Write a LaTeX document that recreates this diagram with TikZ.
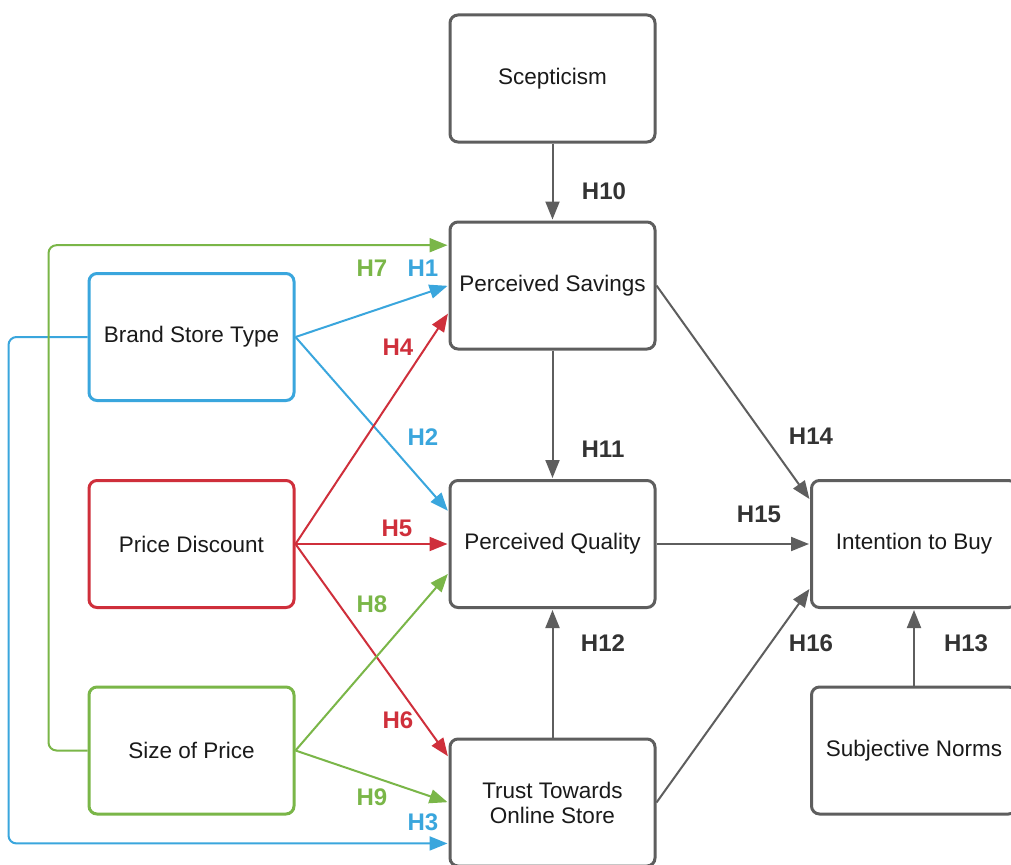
\documentclass[tikz,border=0pt]{standalone}
\usepackage{fontspec}
\setmainfont{Liberation Sans}
\usetikzlibrary{arrows.meta,calc}
\definecolor{cblue}{HTML}{3AA6DD}
\definecolor{cred}{HTML}{CF2F3B}
\definecolor{cgreen}{HTML}{7AB648}
\definecolor{cgray}{HTML}{5E5E5E}
\definecolor{ctext}{HTML}{1A1A1A}
\definecolor{clab}{HTML}{333333}
\tikzset{
  box/.style={draw=cgray, line width=3pt, rounded corners=8pt, minimum width=205pt, minimum height=127pt,
    inner sep=0pt, align=center, text=ctext, font=\fontsize{22.5}{25}\selectfont, fill=white},
  conn/.style={line width=2pt, -{Triangle[length=18pt,width=14pt]}, shorten >=1pt},
  lab/.style={font=\fontsize{24}{28}\selectfont\bfseries, inner sep=0pt}
}
\begin{document}
\begin{tikzpicture}[x=1pt,y=-1pt]
\useasboundingbox (0,0) rectangle (1011,864);
\clip (0,0) rectangle (1011,864);
\fill[white] (0,0) rectangle (1011,864);
% nodes
\node[box] (sc)  at (552.5,78.5) {Scepticism};
\node[box] (ps)  at (552.5,285.5) {Perceived Savings};
\node[box] (pq)  at (552.5,544) {Perceived Quality};
\node[box] (tr)  at (552.5,802.5) {Trust Towards\\Online Store};
\node[box, draw=cblue] (bst) at (191.5,337) {Brand Store Type};
\node[box, draw=cred] (pd)  at (191.5,544) {Price Discount};
\node[box, draw=cgreen] (sop) at (191.5,750.5) {Size of Price};
\node[box] (itb) at (914,544) {Intention to Buy};
\node[box] (sn)  at (914,750.5) {Subjective Norms};
% target coordinates on borders
\coordinate (ps7) at ($(ps.west)!0.62!(ps.north west)$);
\coordinate (ps4) at ($(ps.west)!0.42!(ps.south west)$);
\coordinate (pq2) at ($(pq.west)!0.5!(pq.north west)$);
\coordinate (pq8) at ($(pq.west)!0.45!(pq.south west)$);
\coordinate (tr6) at ($(tr.west)!0.7!(tr.north west)$);
\coordinate (tr3) at ($(tr.west)!0.63!(tr.south west)$);
\coordinate (it14) at ($(itb.west)!0.68!(itb.north west)$);
\coordinate (it16) at ($(itb.west)!0.68!(itb.south west)$);
% gray connectors
\draw[conn, cgray] (sc.south) -- (ps.north);
\draw[conn, cgray] (ps.south) -- (pq.north);
\draw[conn, cgray] (tr.north) -- (pq.south);
\draw[conn, cgray] (ps.east) -- (it14);
\draw[conn, cgray] (pq.east) -- (itb.west);
\draw[conn, cgray] (tr.east) -- (it16);
\draw[conn, cgray] (sn.north) -- (itb.south);
% blue
\draw[conn, cblue] (bst.east) -- (ps.west);
\draw[conn, cblue] (bst.east) -- (pq2);
\draw[conn, cblue, rounded corners=8pt] (bst.west) -- ++(-79,0) |- (tr3);
% red
\draw[conn, cred] (pd.east) -- (ps4);
\draw[conn, cred] (pd.east) -- (pq.west);
\draw[conn, cred] (pd.east) -- (tr6);
% green
\draw[conn, cgreen, rounded corners=8pt] (sop.west) -- ++(-39,0) |- (ps7);
\draw[conn, cgreen] (sop.east) -- (pq8);
\draw[conn, cgreen] (sop.east) -- (tr.west);
% labels
\node[lab, text=clab] (l10) at (604,191) {H10};
\node[lab, text=clab] (l11) at (603,449) {H11};
\node[lab, text=clab] (l12) at (603,643) {H12};
\node[lab, text=clab] (l14) at (811,436) {H14};
\node[lab, text=clab] (l15) at (759,514) {H15};
\node[lab, text=clab] (l16) at (811,643) {H16};
\node[lab, text=clab] (l13) at (966,643) {H13};
\node[lab, text=cblue] (l1) at (423,268) {H1};
\node[lab, text=cgreen] (l7) at (372,268) {H7};
\node[lab, text=cred] (l4) at (398,347) {H4};
\node[lab, text=cblue] (l2) at (423,437) {H2};
\node[lab, text=cred] (l5) at (397,528) {H5};
\node[lab, text=cgreen] (l8) at (372,604) {H8};
\node[lab, text=cred] (l6) at (398,720) {H6};
\node[lab, text=cgreen] (l9) at (372,797) {H9};
\node[lab, text=cblue] (l3) at (423,822) {H3};
\end{tikzpicture}
\end{document}
